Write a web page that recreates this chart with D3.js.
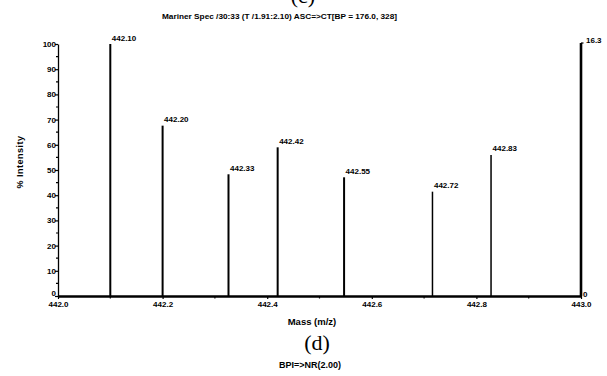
<html>
<script src="https://d3js.org/d3.v7.min.js"></script>
<style>
    body { margin: 0; background: #fff; }
    text { font-family: "Liberation Sans", Arial, sans-serif; font-weight: bold; fill: #000; }
    .serif { font-family: "Liberation Serif", "Times New Roman", serif; font-weight: normal; }
</style>
<body>
<div id="chart"></div>
<script>
    // peak positions (m/z), relative intensities (%) and the printed labels
    var peakMass = [442.10, 442.20, 442.326, 442.42, 442.547, 442.716, 442.828];
    var peakIntensity = [100, 67.6, 48.3, 59.0, 47.1, 41.4, 56.0];
    var peakLabels = ["442.10", "442.20", "442.33", "442.42", "442.55", "442.72", "442.83"];

    var xTicks = [442.0, 442.2, 442.4, 442.6, 442.8, 443.0];
    var xMinorTicks = [442.1, 442.3, 442.5, 442.7, 442.9];
    var yTicks = [0, 10, 20, 30, 40, 50, 60, 70, 80, 90, 100];
    var yMinorTicks = [5, 15, 25, 35, 45, 55, 65, 75, 85, 95];
    var rightAxisLabels = ["16.3", "0"];

    var width = 607, height = 376;
    var svg = d3.select("#chart").append("svg")
        .attr("width", width)
        .attr("height", height);

    var x = d3.scaleLinear().domain([442.0, 443.0]).range([58, 581]);
    var y = d3.scaleLinear().domain([0, 100]).range([296, 44]);

    // panel letter left over from the plot above (cut by the top edge)
    svg.append("text").attr("class", "serif")
        .attr("x", 303).attr("y", 3)
        .attr("text-anchor", "middle")
        .style("font-size", "22px")
        .text("(c)");

    svg.append("text")
        .attr("x", 162).attr("y", 18.5)
        .style("font-size", "7.5px")
        .attr("textLength", 235)
        .attr("lengthAdjust", "spacingAndGlyphs")
        .text("Mariner Spec /30:33 (T /1.91:2.10)  ASC=>CT[BP = 176.0, 328]");

    // left axis
    var yAxis = svg.append("g")
        .attr("transform", "translate(" + x.range()[0] + ",0)")
        .call(d3.axisLeft(y).tickValues(yTicks).tickSize(3).tickSizeOuter(0));
    yAxis.select(".domain").attr("stroke-width", 1.3);
    yAxis.selectAll(".tick line").attr("stroke-width", 1.2);
    yAxis.selectAll(".tick text")
        .attr("x", -2)
        .style("font-size", "8px")
        .style("font-family", "Liberation Sans, Arial, sans-serif")
        .style("font-weight", "bold")
        .attr("dy", function (d) { return d == 0 ? "-0.1em" : "0.32em" });
    svg.append("g").selectAll("line")
        .data(yMinorTicks)
        .enter().append("line")
        .attr("x1", x.range()[0] - 2).attr("x2", x.range()[0])
        .attr("y1", function (d) { return y(d) })
        .attr("y2", function (d) { return y(d) })
        .attr("stroke", "#000").attr("stroke-width", 1.2);

    // bottom axis
    var xAxis = svg.append("g")
        .attr("transform", "translate(0," + y(0) + ")")
        .call(d3.axisBottom(x).tickValues(xTicks).tickSize(3).tickSizeOuter(0).tickFormat(d3.format(".1f")));
    xAxis.select(".domain").attr("stroke-width", 2.4);
    xAxis.selectAll(".tick line").attr("stroke-width", 1.2);
    xAxis.selectAll(".tick text")
        .attr("y", 5)
        .style("font-size", "8px")
        .style("font-family", "Liberation Sans, Arial, sans-serif")
        .style("font-weight", "bold");
    svg.append("g").selectAll("line")
        .data(xMinorTicks)
        .enter().append("line")
        .attr("x1", function (d) { return x(d) })
        .attr("x2", function (d) { return x(d) })
        .attr("y1", y(0)).attr("y2", y(0) + 2.5)
        .attr("stroke", "#000").attr("stroke-width", 1.2);

    // right axis (absolute intensity)
    var xr = x.range()[1];
    svg.append("line")
        .attr("x1", xr).attr("x2", xr)
        .attr("y1", y(100) - 1).attr("y2", y(0))
        .attr("stroke", "#000").attr("stroke-width", 2.6);
    svg.append("line")
        .attr("x1", xr).attr("x2", xr + 2.5)
        .attr("y1", y(100) - 1).attr("y2", y(100) - 1)
        .attr("stroke", "#000").attr("stroke-width", 1.2);
    svg.append("text")
        .attr("x", xr + 5).attr("y", y(100) - 1.5)
        .style("font-size", "8px")
        .text(rightAxisLabels[0]);
    svg.append("text")
        .attr("x", xr + 2).attr("y", y(0) + 1)
        .style("font-size", "8px")
        .text(rightAxisLabels[1]);

    // peaks
    svg.append("g").selectAll("line")
        .data(peakMass)
        .enter().append("line")
        .attr("x1", function (d) { return x(d) })
        .attr("x2", function (d) { return x(d) })
        .attr("y1", y(0))
        .attr("y2", function (d, i) { return y(peakIntensity[i]) })
        .attr("stroke", "#000")
        .attr("stroke-width", function (d, i) { return i >= 5 ? 1.5 : 2 });

    svg.append("g").selectAll("text")
        .data(peakMass)
        .enter().append("text")
        .attr("x", function (d) { return x(d) + 1.5 })
        .attr("y", function (d, i) { return y(peakIntensity[i]) - 3.5 })
        .style("font-size", "8px")
        .text(function (d, i) { return peakLabels[i] });

    // axis titles
    svg.append("text")
        .attr("x", 312).attr("y", 325)
        .attr("text-anchor", "middle")
        .style("font-size", "9.5px")
        .text("Mass (m/z)");
    svg.append("text")
        .attr("transform", "translate(23,162) rotate(-90)")
        .attr("text-anchor", "middle")
        .style("font-size", "9px")
        .style("letter-spacing", "0.5px")
        .text("% Intensity");

    // next panel header
    svg.append("text").attr("class", "serif")
        .attr("x", 317).attr("y", 350)
        .attr("text-anchor", "middle")
        .style("font-size", "22px")
        .text("(d)");
    svg.append("text")
        .attr("x", 310).attr("y", 368)
        .attr("text-anchor", "middle")
        .style("font-size", "9px")
        .text("BPI=>NR(2.00)");
</script>
</body>
</html>
